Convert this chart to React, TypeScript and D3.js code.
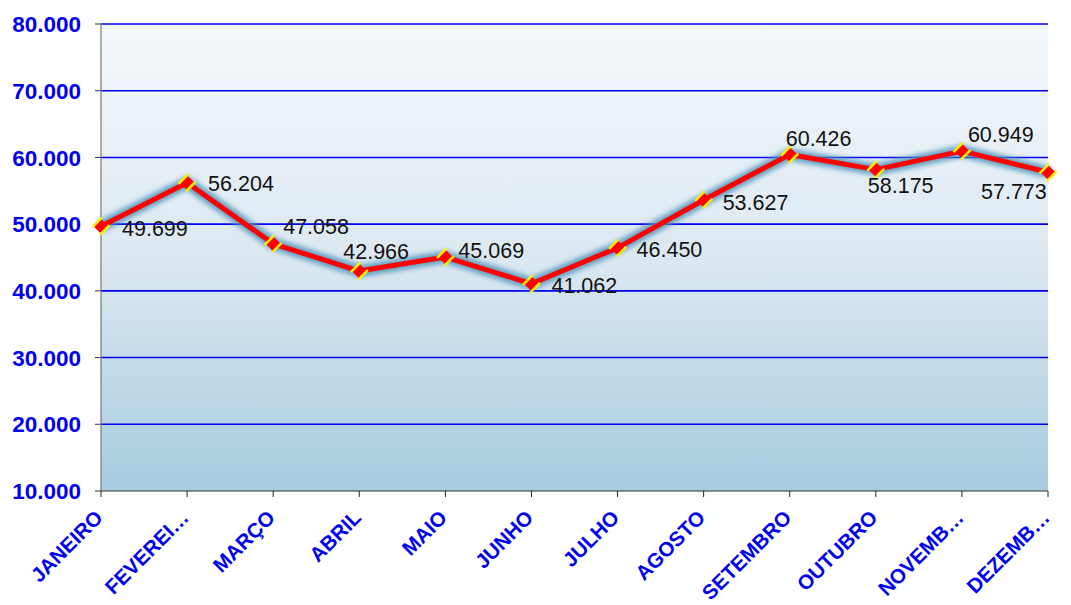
import React from "react";
import * as d3 from "d3";

const months = ["JANEIRO", "FEVEREI…", "MARÇO", "ABRIL", "MAIO", "JUNHO", "JULHO", "AGOSTO", "SETEMBRO", "OUTUBRO", "NOVEMB…", "DEZEMB…"];
const values = [49699, 56204, 47058, 42966, 45069, 41062, 46450, 53627, 60426, 58175, 60949, 57773];
const valueLabels = ["49.699", "56.204", "47.058", "42.966", "45.069", "41.062", "46.450", "53.627", "60.426", "58.175", "60.949", "57.773"];
const yTicks = [10000, 20000, 30000, 40000, 50000, 60000, 70000, 80000];
const yTickLabels = ["10.000", "20.000", "30.000", "40.000", "50.000", "60.000", "70.000", "80.000"];
// label offsets relative to the point: [dx, dy]
const labelPos: [number, number][] = [
  [21, 2],
  [21, 1],
  [10, -18],
  [-16, -20],
  [13, -7],
  [20, 1],
  [19, 1],
  [19, 2],
  [-4, -16],
  [-8, 16],
  [6, -17],
  [-67, 19],
];

export default function App() {
  const W = 1071, H = 605;
  const left = 101, right = 1048, top = 24, bottom = 491;
  const x = d3.scalePoint<string>().domain(months).range([left, right]);
  const y = d3.scaleLinear().domain([10000, 80000]).range([bottom, top]);
  const line = d3.line<number>().x((_, i) => x(months[i])!).y((d) => y(d));
  const path = line(values)!;
  const ms = 7.5;
  return (
    <svg width={W} height={H} style={{ position: "absolute", left: 0, top: 0, background: "#fff" }} fontFamily="Liberation Sans, Arial, sans-serif">
      <defs>
        <linearGradient id="bg" x1="0" y1="0" x2="0" y2="1">
          <stop offset="0" stopColor="#f4f8fb" />
          <stop offset="0.5" stopColor="#dce8f1" />
          <stop offset="1" stopColor="#a8cbdf" />
        </linearGradient>
        <filter id="glow" x="-10%" y="-10%" width="120%" height="120%">
          <feGaussianBlur stdDeviation="2.5" />
        </filter>
      </defs>
      <rect x={left} y={top} width={right - left} height={bottom - top} fill="url(#bg)" />
      {yTicks.map((t, i) => (
        <g key={t}>
          {t > 10000 && <line x1={left} x2={right} y1={y(t)} y2={y(t)} stroke="#0000ee" strokeWidth={1.6} />}
          <line x1={left - 6} x2={left} y1={y(t)} y2={y(t)} stroke="#333" strokeWidth={1} />
          <text x={left - 20} y={y(t)} dy="0.36em" textAnchor="end" fill="#0000ee" fontWeight="bold" fontSize={22.5}>
            {yTickLabels[i]}
          </text>
        </g>
      ))}
      <line x1={left} x2={left} y1={top} y2={bottom} stroke="#777" strokeWidth={1.2} />
      <line x1={left} x2={right} y1={bottom} y2={bottom} stroke="#333" strokeWidth={1.2} />
      {months.map((m) => (
        <g key={m}>
          <line x1={x(m)!} x2={x(m)!} y1={bottom} y2={bottom + 6} stroke="#7fb0c8" strokeWidth={4} filter="url(#glow)" opacity={0.7} />
          <line x1={x(m)!} x2={x(m)!} y1={bottom} y2={bottom + 6} stroke="#222" strokeWidth={1} />
          <text
            transform={`translate(${x(m)! + 3},${bottom + 28}) rotate(-45)`}
            textAnchor="end"
            fill="#0000ee"
            fontWeight="bold"
            fontSize={20.5}
          >
            {m}
          </text>
        </g>
      ))}
      <path d={path} fill="none" stroke="#4f94bb" strokeWidth={12} strokeLinejoin="round" filter="url(#glow)" opacity={0.85} />
      <path d={path} fill="none" stroke="#ff0000" strokeWidth={5} strokeLinejoin="round" />
      {values.map((v, i) => {
        const cx = x(months[i])!, cy = y(v);
        return (
          <g key={i} transform={`translate(${cx},${cy})`}>
            <polygon points={`0,${-ms} ${ms},0 0,${ms} ${-ms},0`} fill="#ff0000" />
            <line x1={-ms - 1} y1={1} x2={1} y2={-ms - 1} stroke="#ffee00" strokeWidth={2.5} />
            <line x1={-1} y1={ms + 1} x2={ms + 1} y2={-1} stroke="#ffee00" strokeWidth={2.5} />
          </g>
        );
      })}
      {values.map((v, i) => {
        const [dx, dy] = labelPos[i];
        return (
          <text key={i} x={x(months[i])! + dx} y={y(v) + dy} dy="0.36em" textAnchor="start" fontSize={21.5} fill="#111">
            {valueLabels[i]}
          </text>
        );
      })}
    </svg>
  );
}
